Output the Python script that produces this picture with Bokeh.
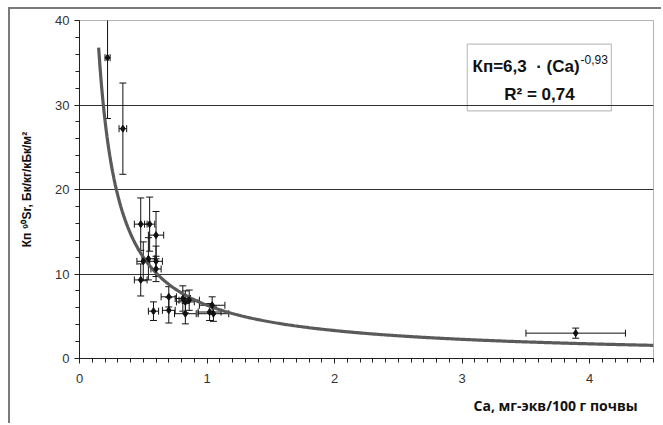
import numpy as np
from bokeh.plotting import figure
from bokeh.models import (ColumnDataSource, Whisker, TeeHead, FixedTicker, Label,
                          BoxAnnotation, Title)
from bokeh.embed import file_html
from bokeh.resources import INLINE

# ---- data ----
ca = [0.22, 0.34, 0.48, 0.55, 0.60, 0.54, 0.50, 0.60, 0.60, 0.48,
      0.70, 0.81, 0.83, 0.86, 1.04, 0.58, 0.70, 0.83, 1.02, 1.05, 3.89]
kp = [35.6, 27.2, 15.9, 15.9, 14.6, 11.8, 11.5, 11.5, 10.6, 9.3,
      7.3, 7.1, 6.7, 6.9, 6.3, 5.6, 5.7, 5.3, 5.5, 5.3, 3.0]
kp_err = [7.2, 5.4, 3.1, 3.2, 2.8, 2.5, 2.3, 1.8, 1.5, 1.9,
          1.2, 1.5, 1.3, 1.2, 1.0, 1.1, 1.5, 1.2, 1.0, 0.9, 0.6]
ca_err = [0.02, 0.03, 0.05, 0.04, 0.06, 0.05, 0.05, 0.05, 0.04, 0.05,
          0.06, 0.06, 0.07, 0.08, 0.10, 0.04, 0.05, 0.085, 0.09, 0.12, 0.39]

# power trendline shown on the chart: Kп = 6,3 · Ca^-0,93
trend_a = 6.3
trend_b = -0.93
trend_x_start = 0.15
trend_x_end = 4.5

x_ticks = [0, 1, 2, 3, 4]
y_ticks = [0, 10, 20, 30, 40]

src = ColumnDataSource(dict(
    x=ca, y=kp,
    yl=[v - e for v, e in zip(kp, kp_err)], yu=[v + e for v, e in zip(kp, kp_err)],
    xl=[v - e for v, e in zip(ca, ca_err)], xu=[v + e for v, e in zip(ca, ca_err)],
))

p = figure(width=653, height=416, x_range=(0, 4.5), y_range=(0, 40),
           output_backend="svg", toolbar_location=None,
           min_border_left=69, min_border_right=10, min_border_top=11,
           min_border_bottom=67)
p.margin = (7, 0, 0, 8)
p.styles = {"border-top": "2px solid #7a7a7a", "border-left": "2px solid #7a7a7a"}
p.outline_line_color = "#b4b4b4"
p.outline_line_width = 1
p.background_fill_color = "white"
p.border_fill_color = "white"

# grid
p.xgrid.visible = False
p.ygrid.ticker = FixedTicker(ticks=[10, 20, 30])
p.ygrid.grid_line_color = "#303030"
p.ygrid.grid_line_width = 1

# axes
p.xaxis.ticker = FixedTicker(ticks=x_ticks, minor_ticks=list(np.round(np.arange(0, 4.51, 0.1), 2)))
p.yaxis.ticker = FixedTicker(ticks=y_ticks, minor_ticks=list(range(0, 41, 2)))
for ax in (p.xaxis[0], p.yaxis[0]):
    ax.axis_line_color = "#202020"
    ax.major_tick_line_color = "#202020"
    ax.minor_tick_line_color = "#202020"
    ax.major_tick_in = 0
    ax.major_tick_out = 5
    ax.minor_tick_in = 0
    ax.minor_tick_out = 4
    ax.major_label_text_font = "Liberation Sans"
    ax.major_label_text_font_size = "13px"
    ax.major_label_text_color = "#333333"
p.xaxis.major_label_standoff = 10
p.yaxis.major_label_standoff = 5

p.yaxis.axis_label = "Кп ⁹⁰Sr, Бк/кг/кБк/м²"
p.yaxis.axis_label_text_font = "Liberation Sans"
p.yaxis.axis_label_text_font_style = "bold"
p.yaxis.axis_label_text_font_size = "12px"
p.yaxis.axis_label_text_color = "#111111"
p.yaxis.axis_label_standoff = 18

# x-axis title, placed at the lower right as in the reference
p.add_layout(Title(text="Ca, мг-экв/100 г почвы", align="left", offset=394,
                   text_font="Open Sans", text_font_style="bold",
                   text_font_size="14px", text_color="#111111", standoff=16),
             "below")

# trendline
tx = np.linspace(trend_x_start, trend_x_end, 400)
p.line(tx, trend_a * tx ** trend_b, line_color="#5a5a5a", line_width=3.2)

# error bars
p.add_layout(Whisker(source=src, base="x", lower="yl", upper="yu", dimension="height",
                     line_color="#111111", line_width=1,
                     upper_head=TeeHead(size=7, line_color="#111111", line_width=1),
                     lower_head=TeeHead(size=7, line_color="#111111", line_width=1)))
p.add_layout(Whisker(source=src, base="y", lower="xl", upper="xu", dimension="width",
                     line_color="#111111", line_width=1,
                     upper_head=TeeHead(size=7, line_color="#111111", line_width=1),
                     lower_head=TeeHead(size=7, line_color="#111111", line_width=1)))
p.scatter("x", "y", source=src, marker="diamond", size=7, fill_color="#111111",
          line_color="#111111")

# equation box (screen coords are relative to the plot frame, origin bottom-left)
p.add_layout(BoxAnnotation(left=3.04, right=4.17, bottom=29.3, top=37.2,
                           fill_alpha=0, line_color="#333333", line_width=1.2))
p.add_layout(Label(x=393, y=292, x_units="screen", y_units="screen",
                   text="Кп=6,3\u00a0\u00a0· (Ca)", text_font="Liberation Sans",
                   text_font_style="bold", text_font_size="17px",
                   text_color="#111111", text_baseline="middle", text_align="left"))
p.add_layout(Label(x=501, y=299, x_units="screen", y_units="screen",
                   text="-0,93", text_font="Liberation Sans",
                   text_font_size="12px", text_color="#111111",
                   text_baseline="middle", text_align="left"))
p.add_layout(Label(x=460, y=264, x_units="screen", y_units="screen",
                   text="R² = 0,74", text_font="Liberation Sans",
                   text_font_style="bold", text_font_size="17px",
                   text_color="#111111", text_baseline="middle", text_align="center"))

open("out.html", "w").write(file_html(p, INLINE))
